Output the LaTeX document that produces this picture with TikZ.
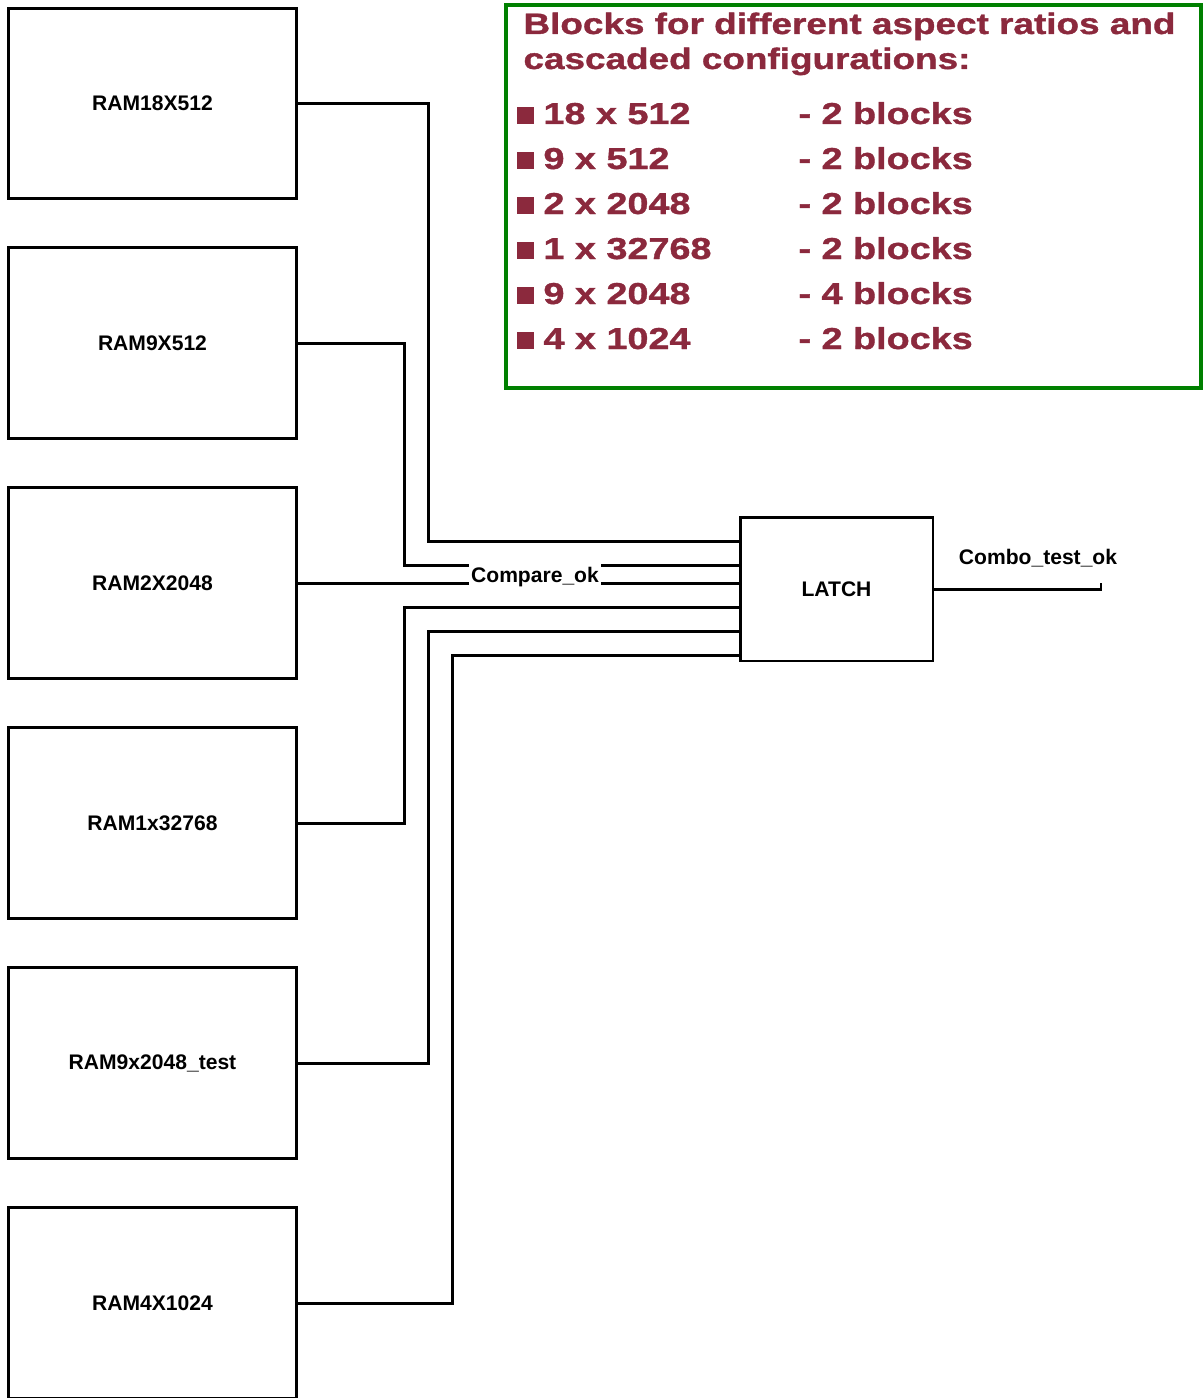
\documentclass[tikz,border=0pt]{standalone}
\usepackage{fontspec}
\setmainfont{Liberation Sans}
\newfontfamily\widefont[FakeStretch=1.25,BoldFeatures={FakeBold=1.2}]{Liberation Sans}
\usepackage{xcolor}
\usetikzlibrary{positioning,calc}

\definecolor{specred}{RGB}{139,41,61}
\definecolor{specgreen}{RGB}{0,128,0}

\tikzset{
  rambox/.style={draw, minimum width=5.78cm, minimum height=3.82cm,
    inner sep=0pt, outer sep=0pt, font=\fontsize{12}{14}\selectfont\bfseries},
  latchbox/.style={draw, minimum width=3.86cm, minimum height=2.88cm,
    inner sep=0pt, outer sep=0pt, font=\fontsize{12}{14}\selectfont\bfseries},
  sig/.style={font=\fontsize{12}{14}\selectfont\bfseries, inner sep=1pt},
  spectext/.style={text=specred, inner sep=0pt,
    font=\widefont\fontsize{16.8}{19.6}\selectfont\bfseries},
  listtext/.style={spectext, anchor=base west,
    font=\widefont\fontsize{17.2}{20}\selectfont\bfseries},
}

\begin{document}
\begin{tikzpicture}[x=0.02cm, y=-0.02cm, line width=1.7pt, node distance=0.98cm]
        \useasboundingbox (0,0) rectangle (1203,1399);
        \clip (0,0) rectangle (1203,1397.5);

        % RAM blocks
        \node[rambox] (ram18) at (152.5,103.5) {RAM18X512};
        \node[rambox, below=of ram18] (ram9) {RAM9X512};
        \node[rambox, below=of ram9] (ram2) {RAM2X2048};
        \node[rambox, below=of ram2] (ram1) {RAM1x32768};
        \node[rambox, below=of ram1] (ram9t) {RAM9x2048\_test};
        \node[rambox, below=of ram9t] (ram4) {RAM4X1024};

        % Latch and its input pins
        \node[latchbox] (latch) at (836.5,589) {LATCH};
        \foreach \i/\d in {1/24,2/48,4/90,5/114,6/138}
          \coordinate (pin\i) at ($(latch.north west)+(0,\d)$);

        % Wires to the latch
        \draw (ram18.east) -- ++(132,0) |- (pin1);
        \draw (ram9.east) -- ++(108,0) |- (pin2);
        \draw (ram2.east) -- (ram2.east -| latch.west);
        \draw (ram1.east) -- ++(108,0) |- (pin4);
        \draw (ram9t.east) -- ++(132,0) |- (pin5);
        \draw (ram4.east) -- ++(156,0) |- (pin6);
        \node[sig, fill=white, minimum height=0.6cm] (cmp) at (535,577.5) {Compare\_ok};

        % Output
        \coordinate (comboend) at ($(latch.east)+(168,0)$);
        \draw (latch.east) -- (comboend) -- ++(0,-6);
        \node[sig] (combo) at (1038,558) {Combo\_test\_ok};

        % Notes box
        \draw[specgreen, line width=2.3pt] (506,5) rectangle (1201,388);
        \node[spectext, anchor=base west] (title1) at (522,34) {Blocks for different aspect ratios and};
        \node[spectext, anchor=base west] (title2) at (522,69) {cascaded configurations:};
        \foreach \dims/\cnt [count=\r from 0, evaluate=\r as \y using 124+45*\r] in
            {18 x 512/2, 9 x 512/2, 2 x 2048/2, 1 x 32768/2, 9 x 2048/4, 4 x 1024/2} {
          \fill[specred] (517,\y-17) rectangle (534,\y);
          \node[listtext] (dim\r) at (542,\y) {\dims};
          \node[listtext] (cnt\r) at (797,\y) {- \cnt\ blocks};
        }
      \end{tikzpicture}
\end{document}
